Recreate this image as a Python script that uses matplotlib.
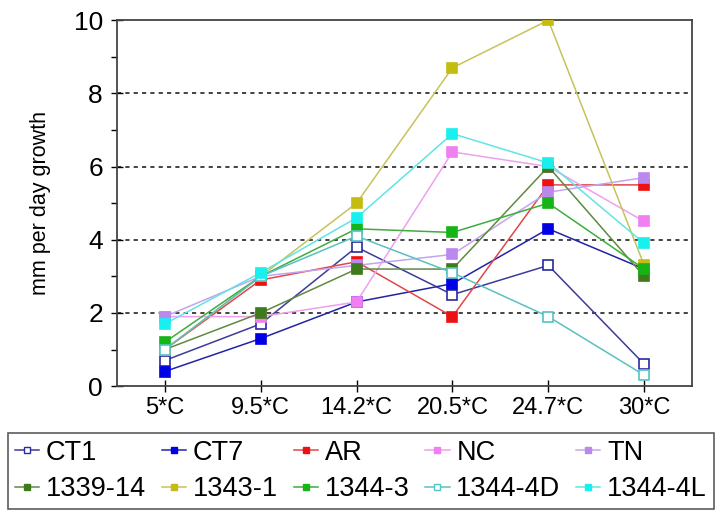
import matplotlib
matplotlib.use("Agg")
import matplotlib.pyplot as plt
from matplotlib.ticker import MultipleLocator

plt.rcParams['font.family'] = ['Liberation Sans', 'DejaVu Sans']

categories = ["5*C", "9.5*C", "14.2*C", "20.5*C", "24.7*C", "30*C"]

series_names = ["CT1", "CT7", "AR", "NC", "TN",
                "1339-14", "1343-1", "1344-3", "1344-4D", "1344-4L"]

ct1 = [0.7, 1.7, 3.8, 2.5, 3.3, 0.6]
ct7 = [0.4, 1.3, 2.3, 2.8, 4.3, 3.2]
ar = [1.0, 2.9, 3.4, 1.9, 5.5, 5.5]
nc = [1.9, 1.9, 2.3, 6.4, 6.0, 4.5]
tn = [1.9, 3.0, 3.3, 3.6, 5.3, 5.7]
s1339_14 = [1.0, 2.0, 3.2, 3.2, 6.0, 3.0]
s1343_1 = [1.0, 3.0, 5.0, 8.7, 10.0, 3.3]
s1344_3 = [1.2, 3.0, 4.3, 4.2, 5.0, 3.2]
s1344_4d = [1.0, 3.0, 4.1, 3.1, 1.9, 0.3]
s1344_4l = [1.7, 3.1, 4.6, 6.9, 6.1, 3.9]

values = [ct1, ct7, ar, nc, tn, s1339_14, s1343_1, s1344_3, s1344_4d, s1344_4l]

marker_colors = ["#2a2aa0", "#0000e6", "#ee1111", "#f07ff0", "#bb88ee",
                 "#3f7a1c", "#c4bc10", "#16b416", "#55c4c4", "#18f0f0"]
line_colors = ["#3b3b9c", "#2323a8", "#e04848", "#eea0ee", "#c4a4ee",
               "#5f8a40", "#c8c25a", "#3cae3c", "#5ac0c0", "#60e4e4"]
filled = [False, True, True, True, True, True, True, True, False, True]

fig = plt.figure(figsize=(7.21, 5.19), dpi=100)
ax = fig.add_axes([0.162, 0.256, 0.798, 0.705])

x = list(range(len(categories)))
for name, vals, mc, lc, f in zip(series_names, values, marker_colors, line_colors, filled):
    ax.plot(x, vals, color=lc, lw=1.1, marker='s', ms=7.5,
            markerfacecolor=(mc if f else 'white'), markeredgecolor=mc,
            markeredgewidth=1.2, label=name, zorder=3)

ax.set_xlim(-0.5, 5.5)
ax.set_ylim(0, 10)
ax.set_xticks(x)
ax.set_xticklabels(categories, fontsize=17)
ax.yaxis.set_major_locator(MultipleLocator(2))
ax.yaxis.set_minor_locator(MultipleLocator(1))
ax.tick_params(axis='y', which='major', direction='inout', length=8, width=1,
               labelsize=19, pad=6)
ax.tick_params(axis='y', which='minor', direction='out', length=4, width=1)
ax.tick_params(axis='x', which='major', direction='inout', length=9, width=1,
               labelsize=17, pad=3)
for yv in [2, 4, 6, 8]:
    ax.axhline(yv, color='#222222', lw=1.2, ls=(0, (2.5, 2.5)), zorder=1)
for s in ax.spines.values():
    s.set_color('#444444')
    s.set_linewidth(1.3)
ax.set_ylabel("mm per day growth", fontsize=15.5, labelpad=16,
              family=['Liberation Sans Narrow', 'Liberation Sans', 'DejaVu Sans'])

leg_handles = []
for name, mc, lc, f in zip(series_names, marker_colors, line_colors, filled):
    hh, = ax.plot([], [], color=lc, lw=1.1, marker='s', ms=5,
                  markerfacecolor=(mc if f else 'white'), markeredgecolor=mc,
                  markeredgewidth=1.0, label=name)
    leg_handles.append(hh)

# legend fills column-first; reorder so rows read left to right
order = [0, 5, 1, 6, 2, 7, 3, 8, 4, 9]
leg = fig.legend([leg_handles[i] for i in order], [series_names[i] for i in order],
                 loc='lower left',
                 bbox_to_anchor=(0.011, 0.019, 0.979, 0.149), mode='expand',
                 ncol=5, fontsize=19.5, frameon=True, fancybox=False,
                 handlelength=0.9, handletextpad=0.25, columnspacing=0.4,
                 borderpad=0.25, labelspacing=0.4, borderaxespad=0)
leg.get_frame().set_edgecolor('#333333')
leg.get_frame().set_linewidth(1.2)

fig.savefig("out.png", dpi=100)
